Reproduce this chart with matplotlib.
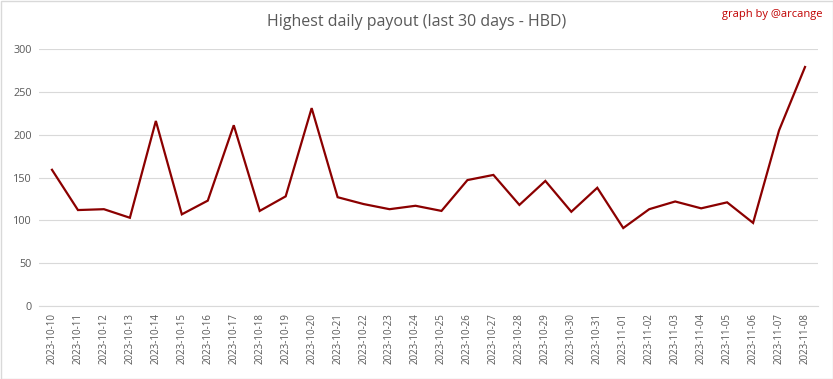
import matplotlib
matplotlib.use("Agg")
import matplotlib.pyplot as plt

dates = ["2023-10-10", "2023-10-11", "2023-10-12", "2023-10-13", "2023-10-14", "2023-10-15",
         "2023-10-16", "2023-10-17", "2023-10-18", "2023-10-19", "2023-10-20", "2023-10-21",
         "2023-10-22", "2023-10-23", "2023-10-24", "2023-10-25", "2023-10-26", "2023-10-27",
         "2023-10-28", "2023-10-29", "2023-10-30", "2023-10-31", "2023-11-01", "2023-11-02",
         "2023-11-03", "2023-11-04", "2023-11-05", "2023-11-06", "2023-11-07", "2023-11-08"]
payout = [159, 112, 113, 103, 216, 107, 123, 211, 111, 128, 231, 127,
          119, 113, 117, 111, 147, 153, 118, 146, 110, 138, 91, 113,
          122, 114, 121, 97, 205, 279]
y_ticks = [0, 50, 100, 150, 200, 250, 300]

plt.rcParams['font.family'] = ['Open Sans', 'DejaVu Sans']
fig = plt.figure(figsize=(8.33, 3.79), dpi=100)
ax = fig.add_axes([39/833, 1-306/379, (818-39)/833, (306-49)/379])

x = list(range(len(dates)))
ax.plot(x, payout, color='#8B0000', lw=1.6, solid_joinstyle='miter')
ax.set_xlim(-0.5, len(dates)-0.5)
ax.set_ylim(0, 300)
ax.set_yticks(y_ticks)
ax.set_yticklabels([str(v) for v in y_ticks], fontsize=7.8, color='#595959')
ax.set_xticks(x)
ax.set_xticklabels(dates, rotation=90, fontsize=7, color='#595959')
ax.tick_params(length=0, pad=5)
ax.yaxis.grid(True, color='#d9d9d9', lw=0.8)
ax.set_axisbelow(True)
for s in ['top', 'right', 'left']:
    ax.spines[s].set_visible(False)
ax.spines['bottom'].set_color('#d9d9d9')

fig.text(0.5, 1-22/379, "Highest daily payout (last 30 days - HBD)", ha='center', va='center',
         fontsize=11.5, color='#595959')
fig.text(822/833, 1-15/379, "graph by @arcange", ha='right', va='center', fontsize=8, color='#C00000')

border = plt.Rectangle((0.5/833, 0.5/379), 1-1/833, 1-1/379, transform=fig.transFigure,
                       fill=False, edgecolor='#d9d9d9', lw=1)
fig.patches.append(border)

fig.savefig("out.png", dpi=100)
